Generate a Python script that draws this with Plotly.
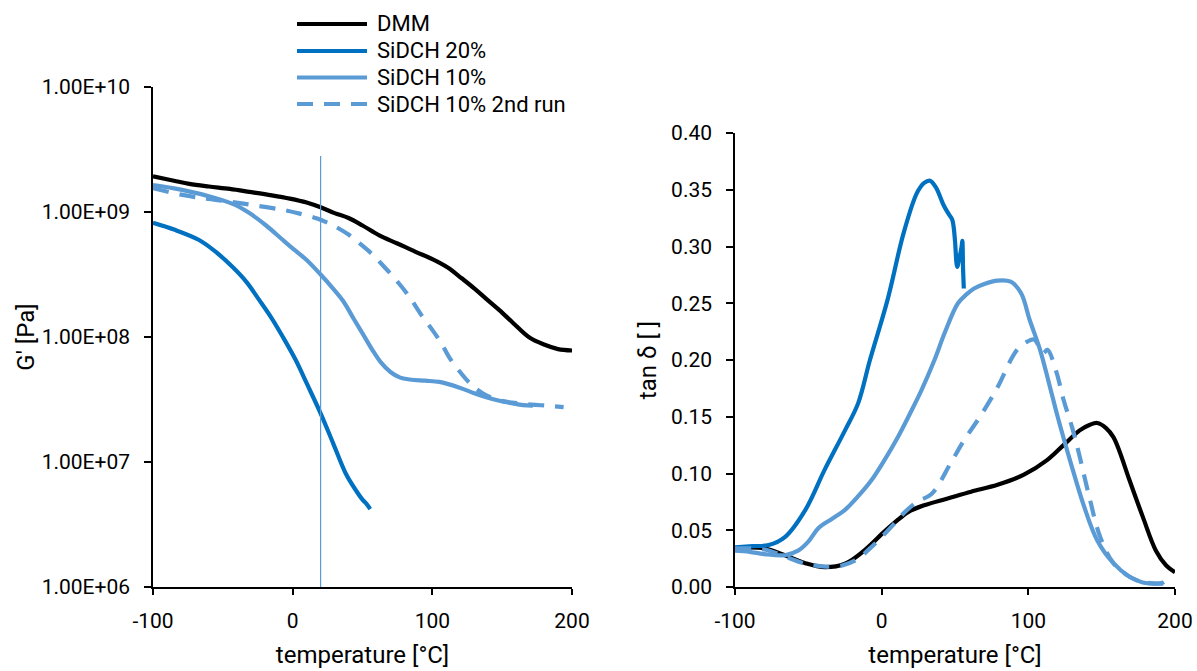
import plotly.graph_objects as go

# ---- storage modulus G' [Pa] vs temperature [°C] ----
t_g_dmm = [-100, -85, -74, -60, -45, -31, -15, -2, 10, 20, 30, 40, 50, 62, 75, 88, 100, 111, 121, 130, 139, 148, 158, 169, 180, 190, 200]
g_dmm = [1.93e9, 1.78e9, 1.68e9, 1.60e9, 1.53e9, 1.45e9, 1.36e9, 1.28e9, 1.19e9, 1.09e9, 9.8e8, 8.95e8, 7.8e8, 6.5e8,
         5.6e8, 4.8e8, 4.2e8, 3.6e8, 2.95e8, 2.45e8, 2.0e8, 1.64e8, 1.29e8, 1.0e8, 8.7e7, 8.0e7, 7.8e7]

t_g_20 = [-100, -85, -67, -55, -43, -33, -24, -15, -7, 2, 10, 20, 29, 38, 45, 50, 53, 55.5]
g_20 = [8.2e8, 7.24e8, 5.97e8, 4.79e8, 3.63e8, 2.75e8, 1.98e8, 1.41e8, 1.0e8, 6.6e7, 4.27e7, 2.45e7, 1.41e7,
        8.1e6, 6.0e6, 5.0e6, 4.6e6, 4.2e6]

t_g_10 = [-100, -80, -55, -42, -31, -19, -7, 2, 10, 20, 28, 36, 44, 50, 57, 63, 70, 77, 84, 95, 105, 119, 130, 138, 148, 157, 165, 172]
g_10 = [1.64e9, 1.51e9, 1.29e9, 1.15e9, 9.8e8, 7.8e8, 5.97e8, 4.9e8, 4.13e8, 3.16e8, 2.51e8, 1.95e8, 1.38e8,
        1.07e8, 7.9e7, 6.3e7, 5.25e7, 4.73e7, 4.57e7, 4.47e7, 4.37e7, 3.95e7, 3.55e7, 3.31e7, 3.09e7, 2.95e7, 2.85e7, 2.82e7]

t_g_10b = [-100, -79, -60, -43, -25, -7, 5, 17, 24, 31, 40, 48, 56, 65, 74, 83, 93, 100, 107, 112, 119, 126, 132, 138, 147, 157, 171, 183, 194]
g_10b = [1.55e9, 1.37e9, 1.27e9, 1.20e9, 1.12e9, 1.04e9, 9.7e8, 8.9e8, 8.3e8, 7.6e8, 6.6e8, 5.6e8, 4.7e8, 3.7e8,
         2.86e8, 2.14e8, 1.45e8, 1.14e8, 8.7e7, 6.9e7, 5.4e7, 4.37e7, 3.8e7, 3.44e7, 3.13e7, 2.99e7, 2.88e7, 2.82e7, 2.75e7]

# reference line at 20 °C
t_ref = [20, 20]
g_ref = [1.0e6, 2.8e9]

# ---- loss factor tan delta vs temperature [°C] ----
t_d_dmm = [-100, -90, -80, -66, -52, -39, -25, -12, 2, 10, 18, 29, 45, 61, 79, 97, 113, 124, 135, 142, 147, 153, 158, 162, 169, 178, 187, 194, 200]
d_dmm = [0.034, 0.035, 0.034, 0.028, 0.021, 0.0175, 0.0205, 0.032, 0.049, 0.058, 0.066, 0.072, 0.078, 0.084, 0.090,
         0.099, 0.112, 0.125, 0.138, 0.143, 0.1445, 0.140, 0.132, 0.120, 0.094, 0.062, 0.032, 0.019, 0.013]

t_d_20 = [-100, -88, -77, -66, -52, -39, -25, -16, -8, 4, 15, 24, 29, 33, 37, 42, 45, 48, 49, 50, 51.5, 53, 54.5, 55, 55.5, 56]
d_20 = [0.035, 0.036, 0.037, 0.044, 0.068, 0.103, 0.138, 0.162, 0.200, 0.253, 0.312, 0.347, 0.356, 0.358, 0.352, 0.337,
        0.330, 0.324, 0.318, 0.305, 0.282, 0.290, 0.300, 0.305, 0.280, 0.263]

t_d_10 = [-100, -90, -80, -66, -57, -50, -43, -34, -25, -16, -7, 2, 11, 19, 27, 36, 43, 52, 58, 63, 70, 79, 88, 95, 101,
          108, 114, 120, 129, 138, 147, 158, 169, 178, 192]
d_10 = [0.032, 0.031, 0.029, 0.028, 0.032, 0.040, 0.052, 0.060, 0.068, 0.080, 0.094, 0.112, 0.132, 0.152, 0.173, 0.200,
        0.224, 0.250, 0.258, 0.263, 0.267, 0.270, 0.269, 0.259, 0.235, 0.209, 0.180, 0.150, 0.109, 0.071, 0.041, 0.021,
        0.009, 0.004, 0.003]

t_d_10b = [-100, -80, -68, -56, -46, -38, -27, -16, -8, 0, 8, 15, 24, 34, 47, 56, 67, 79, 88, 93, 99, 104, 110, 113, 119,
           124, 130, 135, 142, 149, 158, 169, 180, 192, 196]
d_10b = [0.034, 0.033, 0.028, 0.022, 0.019, 0.018, 0.019, 0.025, 0.034, 0.044, 0.055, 0.065, 0.075, 0.082, 0.109, 0.129,
         0.150, 0.176, 0.200, 0.210, 0.216, 0.218, 0.206, 0.209, 0.190, 0.165, 0.140, 0.115, 0.077, 0.044, 0.021, 0.009,
         0.004, 0.004, 0.012]

x_ticks = [-100, 0, 100, 200]
x_tick_text = ["-100", "0", "100", "200"]
g_ticks = [1e6, 1e7, 1e8, 1e9, 1e10]
g_tick_text = ["1.00E+06", "1.00E+07", "1.00E+08", "1.00E+09", "1.00E+10"]
d_ticks = [0, 0.05, 0.1, 0.15, 0.2, 0.25, 0.3, 0.35, 0.4]

legend_names = ["DMM", "SiDCH 20%", "SiDCH 10%", "SiDCH 10% 2nd run"]

BLACK = "#000000"
DARK_BLUE = "#0070C0"
LIGHT_BLUE = "#5B9BD5"
FONT = "Roboto"
LW = 4.2
DASH = "16px,11px"

W, H = 1197, 671

series = [
    (t_g_dmm, g_dmm, t_d_dmm, d_dmm, BLACK, "solid"),
    (t_g_20, g_20, t_d_20, d_20, DARK_BLUE, "solid"),
    (t_g_10, g_10, t_d_10, d_10, LIGHT_BLUE, "solid"),
    (t_g_10b, g_10b, t_d_10b, d_10b, LIGHT_BLUE, DASH),
]

fig = go.Figure()

for name, (tg, g, td, d, col, dash) in zip(legend_names, series):
    line = dict(color=col, width=LW, dash=dash, shape="spline", smoothing=1.0)
    fig.add_trace(go.Scatter(x=tg, y=g, mode="lines", name=name, showlegend=False,
                             line=line, xaxis="x", yaxis="y"))
    fig.add_trace(go.Scatter(x=td, y=d, mode="lines", name=name, showlegend=False,
                             line=line, xaxis="x2", yaxis="y2"))

fig.add_trace(go.Scatter(x=t_ref, y=g_ref, mode="lines", showlegend=False, hoverinfo="skip",
                         line=dict(color=LIGHT_BLUE, width=1.2), xaxis="x", yaxis="y"))

# legend: sample line + label per series, stacked above the left panel
row_y = [24, 51, 77.5, 104]
for name, (_, _, _, _, col, dash), ypx in zip(legend_names, series, row_y):
    yp = 1 - ypx / H
    fig.add_shape(type="line", xref="paper", yref="paper", x0=297 / W, x1=367 / W, y0=yp, y1=yp,
                  line=dict(color=col, width=LW, dash=dash))
    fig.add_annotation(xref="paper", yref="paper", x=375 / W, y=yp, xanchor="left", yanchor="middle",
                       text=name, showarrow=False, font=dict(family=FONT, size=22, color=BLACK))

axis_common = dict(showgrid=False, zeroline=False, showline=True, linecolor=BLACK, linewidth=1.5,
                   ticks="outside", tickcolor=BLACK, tickwidth=1.5, automargin=False,
                   tickfont=dict(family=FONT, size=21, color=BLACK))
title_font = dict(family=FONT, size=24, color=BLACK)

fig.update_layout(
    width=W, height=H,
    margin=dict(l=0, r=0, t=0, b=0),
    paper_bgcolor="white", plot_bgcolor="white",
    font=dict(family=FONT, color=BLACK),
    showlegend=False,
    xaxis=dict(domain=[153 / W, 572 / W], anchor="y", range=[-100, 200], tickvals=x_ticks, ticktext=x_tick_text,
               ticklen=6, ticklabelstandoff=8,
               title=dict(text="temperature [°C]", font=title_font, standoff=14),
               **axis_common),
    yaxis=dict(domain=[1 - 587 / H, 1 - 87 / H], anchor="x", type="log", range=[6, 10],
               tickvals=g_ticks, ticktext=g_tick_text, ticklen=7, ticklabelstandoff=10,
               title=dict(text="G' [Pa]", font=title_font, standoff=0),
               **axis_common),
    xaxis2=dict(domain=[735 / W, 1175 / W], anchor="y2", range=[-100, 200], tickvals=x_ticks, ticktext=x_tick_text,
                ticklen=6, ticklabelstandoff=8,
                title=dict(text="temperature [°C]", font=title_font, standoff=14),
                **axis_common),
    yaxis2=dict(domain=[1 - 587 / H, 1 - 133 / H], anchor="x2", range=[0, 0.4],
                tickvals=d_ticks, tickformat=".2f", ticklen=7, ticklabelstandoff=10,
                title=dict(text="tan δ [ ]", font=title_font, standoff=8),
                **axis_common),
)

fig.write_html("out.html")
